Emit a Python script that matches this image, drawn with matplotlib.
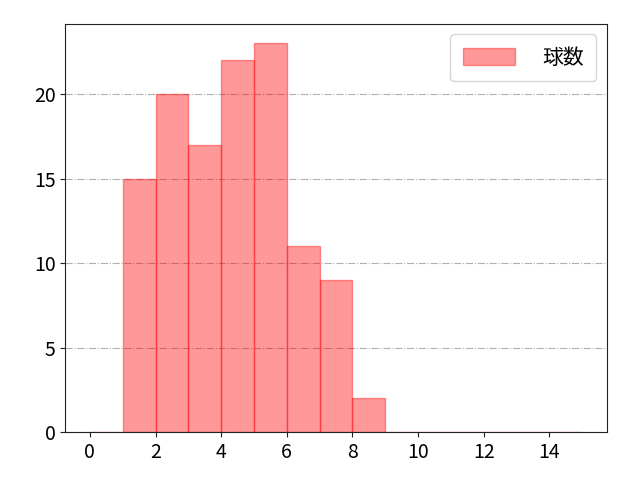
import matplotlib
matplotlib.use("Agg")
import matplotlib.pyplot as plt

plt.rcParams['font.family'] = ['Noto Sans CJK JP', 'DejaVu Sans']

# bin edges 0..15, counts per bin
bin_edges = list(range(0, 16))
counts = [0, 15, 20, 17, 22, 23, 11, 9, 2, 0, 0, 0, 0, 0, 0]
label = "球数"

fig, ax = plt.subplots(figsize=(6.4, 4.8), dpi=100)
fig.subplots_adjust(left=0.102, right=0.948, top=0.95, bottom=0.1)
ax.hist(bin_edges[:-1], bins=bin_edges, weights=counts,
        color='red', alpha=0.4, edgecolor='red', label=label)
ax.grid(axis='y', linestyle='-.', color='#b0b0b0')
ax.set_axisbelow(True)
for s in ax.spines.values():
    s.set_color('#222222')
ax.tick_params(labelsize=14, color='#222222')
ax.legend(fontsize=15, loc='upper right', handlelength=2.5, handleheight=0.9,
          handletextpad=1.3, borderpad=0.6)
fig.savefig("out.png")
